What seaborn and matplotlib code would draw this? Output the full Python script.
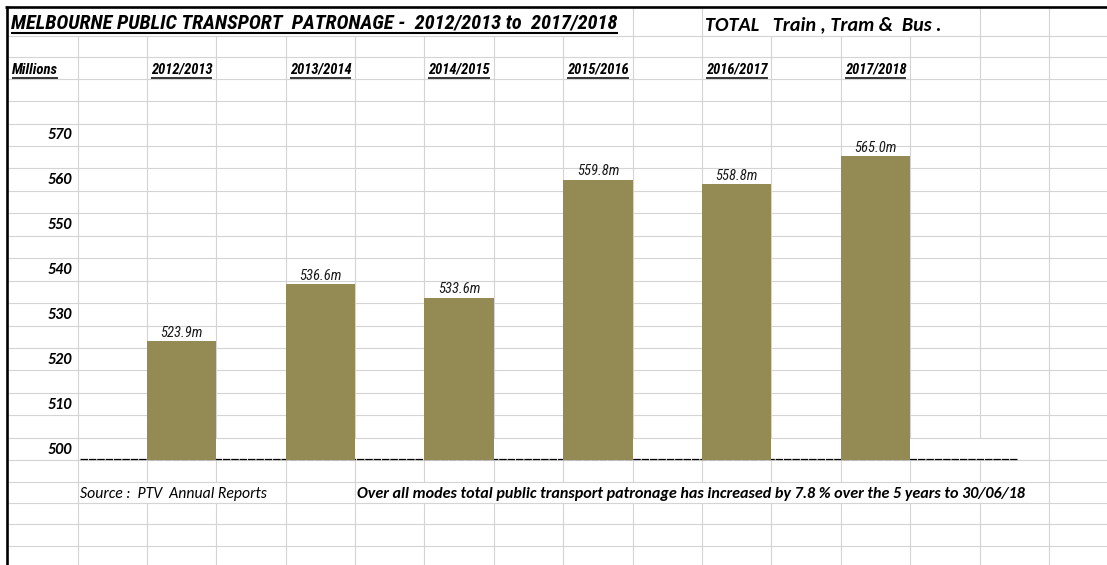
import matplotlib
matplotlib.use("Agg")
import matplotlib.pyplot as plt
import seaborn as sns
import pandas as pd
from matplotlib import font_manager as fm

# ---------------- data ----------------
years = ["2012/2013", "2013/2014", "2014/2015", "2015/2016", "2016/2017", "2017/2018"]
patronage = [523.9, 536.6, 533.6, 559.8, 558.8, 565.0]
y_ticks = [500, 510, 520, 530, 540, 550, 560, 570]
title = "MELBOURNE PUBLIC TRANSPORT  PATRONAGE -  2012/2013 to  2017/2018"
subtitle = "TOTAL   Train , Tram &  Bus ."
unit_label = "Millions"
source_note = "Source :  PTV  Annual Reports"
summary_note = "Over all modes total public transport patronage has increased by 7.8 % over the 5 years to 30/06/18"

# ---------------- fonts ----------------
def _w(v):
    if isinstance(v, (int, float)):
        return v
    return {"bold": 700, "normal": 400, "regular": 400}.get(str(v).lower(), 400)


def font(families, style="normal", weight=400, size=10):
    for fam in families:
        cands = [f for f in fm.fontManager.ttflist
                 if f.name == fam and f.style == style and _w(f.weight) == weight]
        if cands:
            return fm.FontProperties(fname=cands[0].fname, size=size)
    return fm.FontProperties(family=families, style=style, weight=weight, size=size)


NARROW = ["Roboto Condensed", "Liberation Sans"]
CAL = ["Carlito", "Lato", "DejaVu Sans"]

BAR_COLOR = "#948A54"
GRID_COLOR = "#D4D4D4"

W, H = 1107, 565
fig = plt.figure(figsize=(W / 100, H / 100), dpi=100)
fig.patch.set_facecolor("white")

# background "spreadsheet" axes in pixel coordinates
bg = fig.add_axes([0, 0, 1, 1])
bg.set_xlim(0, W)
bg.set_ylim(H, 0)
bg.axis("off")

rows_y = [36, 57.3, 79, 101.2] + [123.5 + i * 22.45 for i in range(16)] + [481.7, 503, 524.3, 545.7]
cols_x = [77.5 + k * 69.39 for k in range(15)]

for y in rows_y:
    bg.plot([6, W], [y, y], color=GRID_COLOR, lw=0.8, zorder=1, solid_capstyle="butt")

# rows where overflowing text hides vertical gridlines
hidden = [
    (7, 36, [(0, 620), (704, 946)]),
    (437.8, 460.25, [(80, 1017)]),
    (481.7, 503, [(80, 268), (357, 1027)]),
]
for x in cols_x:
    segs = [(7, H)]
    for (y0, y1, xr) in hidden:
        if any(a < x < b for a, b in xr):
            new = []
            for (s0, s1) in segs:
                if y1 <= s0 or y0 >= s1:
                    new.append((s0, s1))
                else:
                    if s0 < y0:
                        new.append((s0, y0))
                    if y1 < s1:
                        new.append((y1, s1))
            segs = new
    for s0, s1 in segs:
        bg.plot([x, x], [s0, s1], color=GRID_COLOR, lw=0.8, zorder=1, solid_capstyle="butt")

# thick sheet border
bg.plot([5.2, W], [7, 7], color="black", lw=1.9, zorder=3, solid_capstyle="butt")
bg.plot([6.5, 6.5], [6, H], color="black", lw=1.9, zorder=3, solid_capstyle="butt")

# underscore baseline
bg.plot([80, 1017], [459, 459], color="black", lw=0.9, dashes=(6, 0.7), zorder=2)

# ---------------- bar axes ----------------
ax_left, ax_right, ax_top, ax_bottom = 77.5, 1049.0, 123.5, 460.0
ax = fig.add_axes([ax_left / W, (H - ax_bottom) / H, (ax_right - ax_left) / W, (ax_bottom - ax_top) / H])
ax.set_facecolor("none")

df = pd.DataFrame({"year": years, "patronage": patronage})
sns.barplot(data=df, x="year", y="patronage", color=BAR_COLOR, saturation=1,
            width=0.5, linewidth=0, edgecolor="none", ax=ax, zorder=4)

# y mapping: 500 at pixel 449, 570 at pixel 133.7
scale = (449 - 133.7) / 70.0
ax.set_ylim(500 - (ax_bottom - 449) / scale, 570 + (133.7 - ax_top) / scale)
col_w = 69.39
first_center = 146.9 + col_w / 2
ax.set_xlim((ax_left - first_center) / (2 * col_w), (ax_right - first_center) / (2 * col_w))

for sp in ax.spines.values():
    sp.set_visible(False)
ax.set_xlabel("")
ax.set_ylabel("")
ax.grid(False)

ax.set_yticks(y_ticks)
ax.set_yticklabels([str(v) for v in y_ticks])
ax.tick_params(axis="y", length=0, pad=4.0)
for lbl in ax.get_yticklabels():
    lbl.set_fontproperties(font(CAL, "italic", 700, 11.5))
    lbl.set_color("black")

ax.xaxis.set_ticks_position("top")
ax.tick_params(axis="x", length=0, pad=(ax_top - 74) * 0.72, labelbottom=False, labeltop=True)

# value labels
vals = ax.bar_label(ax.containers[0], labels=[f"{v:.1f}m" for v in patronage], padding=1.0,
                    fontproperties=font(NARROW, "italic", 400, 11), color="#1a1a1a")

renderer = fig.canvas.get_renderer()


def fit(t, target):
    w = t.get_window_extent(renderer).width
    t.set_fontsize(t.get_fontsize() * target / w)


def underline(t, y, lw):
    bb = t.get_window_extent(renderer)
    x0 = bg.transData.inverted().transform((bb.x0, 0))[0]
    x1 = bg.transData.inverted().transform((bb.x1, 0))[0]
    bg.plot([x0, x1], [y, y], color="black", lw=lw, zorder=3, solid_capstyle="butt")


fig.canvas.draw()
w_val = vals[0].get_window_extent(renderer).width
for v in vals:
    v.set_fontsize(v.get_fontsize() * 42 / w_val)

# texts
t_title = bg.text(11, 29, title, fontproperties=font(NARROW, "italic", 700, 13), va="baseline")
fit(t_title, 604)
t_sub = bg.text(705, 30, subtitle, fontproperties=font(CAL, "italic", 700, 12), va="baseline")
fit(t_sub, 237)
t_mil = bg.text(12, 74, unit_label, fontproperties=font(NARROW, "italic", 700, 10), va="baseline")
fit(t_mil, 46)
t_src = bg.text(80, 498, source_note, fontproperties=font(CAL, "italic", 400, 11), va="baseline")
fit(t_src, 187)
t_sum = bg.text(357, 498, summary_note, fontproperties=font(CAL, "italic", 700, 11), va="baseline")
fit(t_sum, 669)

fig.canvas.draw()
xl = ax.get_xticklabels()
for lbl in xl:
    lbl.set_fontproperties(font(NARROW, "italic", 700, 10))
    lbl.set_va("baseline")
    lbl.set_color("black")
fig.canvas.draw()
w0 = xl[0].get_window_extent(renderer).width
for lbl in xl:
    lbl.set_fontsize(10 * 61 / w0)
fig.canvas.draw()

underline(t_title, 33, 1.5)
underline(t_mil, 77.5, 1.1)
for lbl in ax.get_xticklabels():
    underline(lbl, 77.5, 1.1)

fig.savefig("out.png", dpi=100, facecolor="white")
